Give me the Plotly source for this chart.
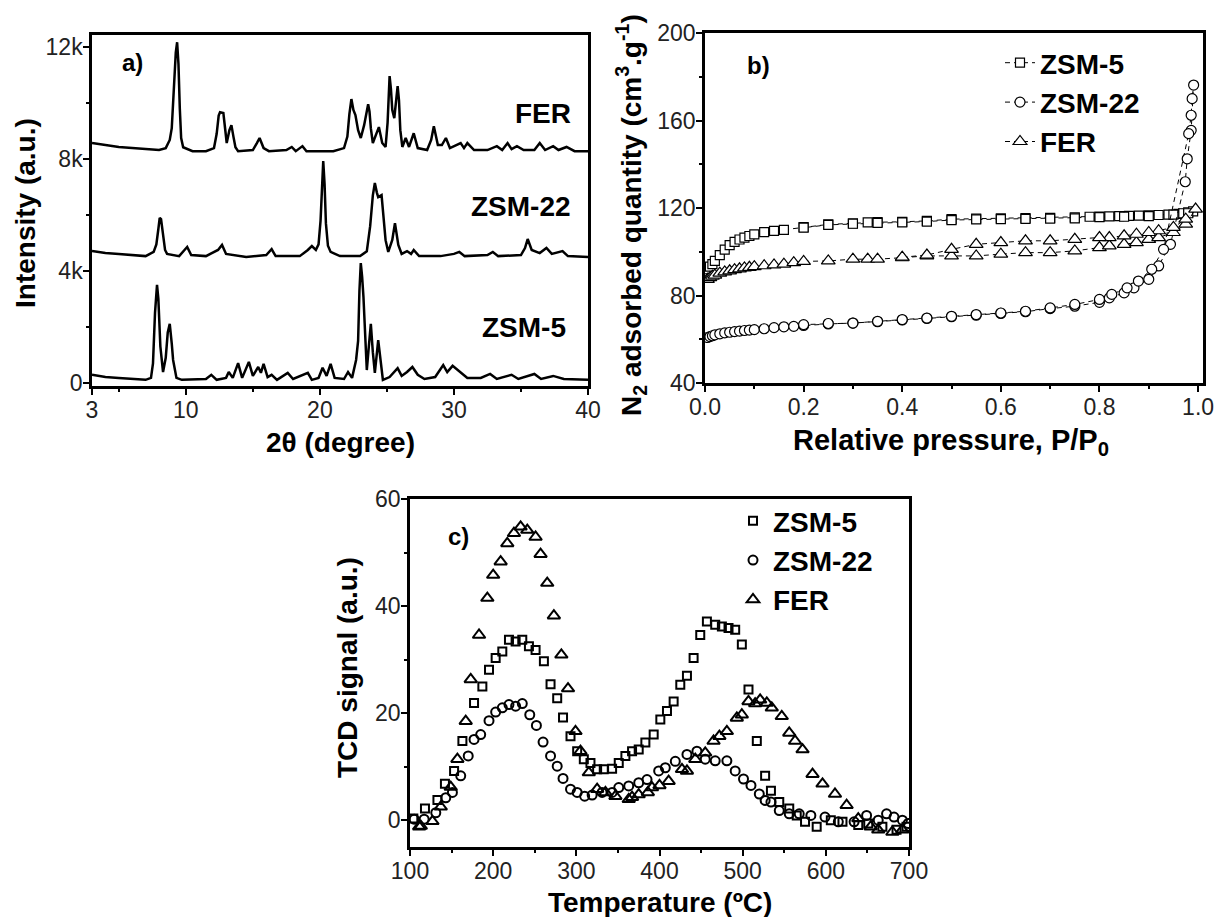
import plotly.graph_objects as go

W, H = 1219, 917
FONT = "Liberation Sans, Arial, sans-serif"

# ---------------- Panel a: XRD ----------------
fer_2t = [3.0, 4.0, 5.0, 6.0, 7.0, 8.0, 8.5, 8.8, 8.95, 9.1, 9.25, 9.35, 9.45, 9.55, 9.65, 9.8, 10.5, 11.5, 12.1,
          12.3, 12.45, 12.55, 12.8, 12.95, 13.05, 13.25, 13.4, 13.55, 13.7, 13.9, 15.0, 15.3, 15.5, 15.8, 16.2,
          17.5, 17.9, 18.2, 18.7, 19.0, 21.0, 21.8, 22.05, 22.2, 22.35, 22.5, 22.65, 22.85, 23.05, 23.3, 23.5,
          23.6, 23.7, 23.8, 23.95, 24.2, 24.4, 24.65, 24.9, 25.05, 25.15, 25.2, 25.3, 25.4, 25.55, 25.7, 25.8,
          25.9, 26.0, 26.15, 26.4, 26.65, 27.0, 27.3, 28.0, 28.3, 28.5, 28.8, 29.1, 29.4, 29.7, 30.5, 30.75, 31.0,
          31.5, 32.5, 33.2, 33.6, 34.0, 34.3, 34.7, 35.2, 36.0, 36.4, 36.8, 37.4, 37.8, 38.4, 39.0, 40.0]
fer_int = [8570, 8500, 8425, 8390, 8350, 8320, 8390, 8680, 9100, 10400, 11800, 12170, 11400, 9800, 8750, 8420,
           8280, 8280, 8390, 8900, 9550, 9670, 9640, 9000, 8570, 9030, 9210, 8800, 8420, 8280, 8320, 8570, 8750,
           8390, 8280, 8320, 8430, 8280, 8460, 8280, 8280, 8390, 8800, 9600, 10140, 9750, 9570, 9030, 8750, 9210,
           9700, 9960, 9700, 9100, 8570, 8850, 9140, 8570, 8430, 9300, 10500, 10960, 10500, 9750, 9460, 10300,
           10600, 10100, 9030, 8430, 8750, 8430, 8920, 8390, 8320, 8680, 9170, 8500, 8500, 8750, 8390, 8570, 8390,
           8570, 8320, 8320, 8460, 8320, 8570, 8350, 8460, 8320, 8320, 8570, 8320, 8460, 8320, 8430, 8280, 8280]

zsm22_2t = [3.0, 4.0, 5.0, 6.0, 7.0, 7.6, 7.8, 7.95, 8.05, 8.15, 8.3, 8.45, 8.6, 9.5, 9.9, 10.1, 10.4, 11.5, 12.4,
            12.7, 13.0, 14.5, 16.0, 16.4, 16.7, 18.5, 19.1, 19.4, 19.7, 19.9, 20.05, 20.15, 20.25, 20.35, 20.45,
            20.6, 20.8, 21.5, 23.0, 23.5, 23.75, 23.95, 24.1, 24.25, 24.35, 24.6, 24.75, 24.9, 25.1, 25.4, 25.6,
            25.85, 26.1, 26.5, 26.8, 27.0, 27.4, 29.0, 30.0, 30.4, 30.8, 32.5, 32.9, 33.3, 35.0, 35.3, 35.5, 35.8,
            36.4, 36.9, 37.3, 38.1, 38.5, 40.0]
zsm22_int = [4710, 4640, 4610, 4570, 4530, 4680, 4950, 5500, 5900, 5850, 5250, 4750, 4610, 4530, 4750, 4860, 4570,
             4530, 4750, 4930, 4610, 4500, 4570, 4780, 4530, 4530, 4750, 4890, 4750, 4950, 5800, 7200, 7930, 7100,
             5700, 4900, 4680, 4530, 4530, 4700, 5600, 6700, 7140, 6800, 6640, 6710, 6000, 5100, 4680, 5110, 5710,
             4930, 4610, 4710, 4610, 4750, 4530, 4530, 4610, 4680, 4530, 4570, 4680, 4530, 4570, 4820, 5140, 4750,
             4640, 4820, 4610, 4710, 4530, 4500]

zsm5_2t = [3.0, 4.0, 5.0, 6.0, 7.0, 7.4, 7.55, 7.7, 7.85, 7.95, 8.1, 8.3, 8.5, 8.65, 8.8, 8.95, 9.05, 9.3, 9.7,
           11.5, 11.9, 12.3, 13.0, 13.2, 13.5, 13.9, 14.2, 14.7, 15.0, 15.4, 15.6, 15.8, 16.1, 16.4, 16.8, 17.6,
           18.0, 19.1, 19.4, 19.9, 20.2, 20.5, 20.8, 21.1, 21.8, 22.1, 22.4, 22.7, 22.85, 22.95, 23.05, 23.15,
           23.25, 23.4, 23.5, 23.65, 23.8, 23.95, 24.1, 24.35, 24.5, 24.7, 25.2, 25.8, 26.1, 26.5, 26.9, 27.3,
           27.8, 28.6, 29.2, 29.5, 29.9, 30.5, 31.0, 32.0, 32.7, 33.2, 34.3, 34.8, 36.0, 36.5, 37.4, 38.2, 40.0]
zsm5_int = [290, 210, 180, 140, 110, 180, 700, 2500, 3500, 3000, 1300, 390, 900, 1800, 2110, 1400, 820, 180, 110,
            140, 290, 110, 180, 390, 180, 710, 180, 750, 250, 570, 360, 680, 210, 290, 110, 360, 140, 360, 110,
            180, 540, 250, 680, 180, 140, 390, 180, 820, 1500, 3300, 4280, 3800, 3070, 1500, 460, 1300, 2110, 1100,
            360, 1530, 900, 110, 210, 530, 250, 390, 570, 290, 140, 210, 640, 390, 610, 360, 180, 180, 320, 140,
            290, 140, 320, 140, 250, 140, 110]

xrd_tickvals = [3, 10, 20, 30, 40]
xrd_minor = [5, 15, 25, 35]
int_tickvals = [0, 4000, 8000, 12000]
int_ticktext = ["0", "4k", "8k", "12k"]

# ---------------- Panel b: N2 isotherms ----------------
b_zsm5_ads_p = [0.005, 0.01, 0.015, 0.02, 0.03, 0.04, 0.05, 0.06, 0.07, 0.08, 0.09, 0.10, 0.12, 0.14, 0.16, 0.20,
                0.25, 0.30, 0.33, 0.35, 0.40, 0.45, 0.50, 0.55, 0.60, 0.65, 0.70, 0.75, 0.78, 0.80, 0.82, 0.84,
                0.86, 0.88, 0.90, 0.92, 0.94, 0.96, 0.97, 0.98, 0.99]
b_zsm5_ads_q = [92.0, 93.2, 94.3, 95.8, 98.5, 101.0, 103.0, 104.5, 105.6, 106.5, 107.2, 107.9, 109.0, 109.5,
                110.0, 111.3, 112.5, 113.0, 113.4, 113.5, 113.7, 114.1, 114.9, 115.1, 115.3, 115.4, 115.5, 115.7,
                116.0, 116.1, 116.2, 116.3, 116.4, 116.5, 116.6, 116.8, 117.0, 117.3, 117.6, 118.0, 118.5]
b_zsm5_des_p = [0.98, 0.95, 0.90, 0.85, 0.80, 0.75, 0.70, 0.65, 0.60, 0.55, 0.50, 0.45, 0.40, 0.35, 0.30, 0.25,
                0.20]
b_zsm5_des_q = [117.6, 117.0, 116.3, 116.0, 115.8, 115.3, 115.1, 115.0, 114.9, 114.8, 114.5, 113.8, 113.4, 113.2,
                112.8, 112.3, 111.0]

b_zsm22_ads_p = [0.005, 0.01, 0.015, 0.02, 0.03, 0.04, 0.05, 0.06, 0.07, 0.08, 0.09, 0.10, 0.12, 0.14, 0.16, 0.18,
                 0.20, 0.25, 0.30, 0.35, 0.40, 0.45, 0.50, 0.55, 0.60, 0.65, 0.70, 0.75, 0.80, 0.82, 0.85, 0.87,
                 0.90, 0.92, 0.944, 0.974, 0.978, 0.986, 0.991]
b_zsm22_ads_q = [60.8, 61.2, 61.6, 62.0, 62.5, 62.9, 63.2, 63.5, 63.7, 64.0, 64.2, 64.4, 64.8, 65.3, 65.7, 65.9,
                 66.3, 67.0, 67.4, 68.0, 68.8, 69.5, 70.3, 71.0, 71.8, 72.6, 74.0, 75.1, 76.9, 78.9, 81.2, 83.5,
                 87.4, 93.5, 103.4, 132.0, 142.5, 155.5, 176.2]
b_zsm22_des_p = [0.988, 0.986, 0.981, 0.93, 0.906, 0.879, 0.856, 0.825, 0.80, 0.75, 0.70, 0.65, 0.60, 0.55, 0.50,
                 0.45, 0.40, 0.35, 0.30, 0.25, 0.20]
b_zsm22_des_q = [170.0, 162.4, 154.0, 101.1, 92.0, 86.6, 83.5, 80.5, 78.2, 75.9, 74.3, 72.8, 72.0, 71.3, 70.5,
                 69.7, 69.0, 68.2, 67.4, 67.2, 66.7]

b_fer_ads_p = [0.005, 0.01, 0.015, 0.02, 0.03, 0.04, 0.05, 0.06, 0.07, 0.08, 0.09, 0.10, 0.12, 0.14, 0.16, 0.18,
               0.20, 0.25, 0.30, 0.33, 0.35, 0.40, 0.45, 0.50, 0.55, 0.60, 0.65, 0.70, 0.75, 0.80, 0.82, 0.85,
               0.875, 0.90, 0.92, 0.95, 0.975, 0.995]
b_fer_ads_q = [87.4, 88.2, 88.8, 89.3, 90.2, 90.8, 91.3, 91.8, 92.2, 92.6, 92.9, 93.2, 93.6, 94.0, 94.3, 95.0,
               95.6, 95.8, 96.6, 96.6, 96.6, 97.3, 98.1, 98.1, 98.1, 98.9, 99.6, 99.6, 100.4, 101.9, 102.7, 103.4,
               104.2, 105.7, 106.5, 108.8, 112.6, 119.5]
b_fer_des_p = [0.975, 0.95, 0.92, 0.90, 0.875, 0.85, 0.82, 0.80, 0.75, 0.70, 0.65, 0.60, 0.55, 0.50, 0.45, 0.40]
b_fer_des_q = [114.9, 111.1, 109.6, 108.8, 108.0, 107.3, 106.5, 106.5, 105.7, 105.0, 105.0, 104.2, 103.4, 101.1,
               98.5, 97.5]

# ---------------- Panel c: NH3-TPD ----------------
c_zsm5_t = [104, 118, 133, 142, 153, 163, 177, 187, 195, 203, 211, 219, 227, 235, 243, 251, 261, 269, 277, 284,
            293, 301, 309, 317, 325, 333, 343, 351, 359, 367, 375, 383, 393, 401, 409, 417, 425, 433, 441, 449,
            457, 467, 475, 483, 491, 499, 507, 517, 527, 534, 544, 556, 565, 575, 589, 606, 620, 639, 651, 668,
            685, 697]
c_zsm5_s = [0.3, 2.2, 3.8, 6.8, 9.2, 14.8, 21.9, 25.0, 28.1, 30.3, 31.5, 33.7, 33.4, 33.7, 32.5, 31.8, 29.7, 25.4,
            22.8, 19.2, 15.7, 12.9, 11.4, 10.7, 9.5, 9.5, 9.6, 10.7, 12.0, 12.9, 13.2, 14.5, 16.0, 18.8, 20.4,
            22.2, 25.3, 27.0, 30.3, 34.6, 37.1, 36.5, 36.2, 35.9, 35.6, 32.8, 24.4, 14.8, 8.3, 5.5, 3.4, 2.2, 0.9,
            -0.3, -1.2, 0.0, -0.3, -0.9, -0.6, -1.2, -1.8, -1.2]

c_zsm22_t = [105, 117, 131, 143, 151, 161, 170, 177, 185, 195, 203, 211, 219, 227, 235, 244, 252, 260, 269, 277,
             284, 293, 301, 310, 319, 331, 343, 351, 363, 375, 385, 399, 407, 419, 433, 445, 455, 467, 481, 491,
             501, 510, 520, 527, 534, 544, 556, 568, 582, 599, 615, 634, 649, 663, 673, 682, 692, 699]
c_zsm22_s = [0.2, 0.2, 1.4, 4.2, 5.2, 8.3, 12.0, 15.1, 16.0, 18.6, 20.2, 21.0, 21.6, 21.3, 21.8, 19.7, 17.7, 14.6,
             12.0, 10.1, 7.8, 5.8, 5.2, 4.5, 4.7, 5.2, 5.2, 6.1, 6.4, 7.0, 7.6, 9.2, 9.8, 11.0, 12.3, 12.9, 11.4,
             11.1, 11.1, 9.2, 7.7, 6.5, 4.9, 3.7, 3.4, 1.8, 1.2, 1.2, 0.9, 0.6, -0.3, -0.3, 0.9, 0.0, 1.2, 0.6,
             0.0, -0.6]

c_fer_t = [111, 113, 127, 137, 149, 157, 167, 173, 183, 193, 200, 209, 217, 225, 233, 241, 251, 257, 265, 273,
           282, 290, 299, 305, 315, 325, 335, 347, 363, 367, 375, 386, 391, 400, 411, 427, 433, 443, 455, 465, 472,
           481, 493, 499, 507, 515, 521, 529, 535, 547, 556, 563, 572, 584, 596, 611, 625, 639, 654, 663, 680, 692]
c_fer_s = [-1.2, -1.1, -0.2, 2.5, 6.2, 11.4, 18.5, 26.3, 34.6, 41.5, 45.8, 48.3, 51.7, 53.6, 54.8, 54.2, 52.9,
           49.7, 44.3, 38.2, 30.9, 24.6, 16.6, 12.9, 8.9, 5.8, 5.2, 4.5, 3.9, 4.3, 4.8, 5.2, 6.1, 6.5, 7.3, 9.5,
           9.2, 11.4, 12.6, 14.8, 15.7, 16.6, 19.1, 19.7, 22.2, 21.8, 22.5, 21.9, 21.0, 19.4, 16.3, 14.8, 13.2,
           8.6, 6.8, 4.9, 2.8, 0.3, -1.2, -1.8, -2.2, -1.8]

sample_names = ["ZSM-5", "ZSM-22", "FER"]


def px(x):
    return x / W


def py(y):
    return 1 - y / H


fig = go.Figure()

# Panel a traces
for xs, ys in [(fer_2t, fer_int), (zsm22_2t, zsm22_int), (zsm5_2t, zsm5_int)]:
    fig.add_trace(go.Scatter(x=xs, y=ys, mode="lines", line=dict(color="black", width=2.5),
                             showlegend=False, xaxis="x", yaxis="y"))

# Panel b traces
b_sets = [(b_zsm5_ads_p + b_zsm5_des_p, b_zsm5_ads_q + b_zsm5_des_q, "square", 9),
          (b_zsm22_ads_p + b_zsm22_des_p, b_zsm22_ads_q + b_zsm22_des_q, "circle", 10),
          (b_fer_ads_p + b_fer_des_p, b_fer_ads_q + b_fer_des_q, "triangle-up", 12)]
for (xs, ys, sym, sz), name in zip(b_sets, sample_names):
    fig.add_trace(go.Scatter(x=xs, y=ys, mode="lines+markers", name=name,
                             line=dict(color="black", width=1, dash="5px,4px"),
                             marker=dict(symbol=sym, size=sz, color="white",
                                         line=dict(color="black", width=1.2)),
                             xaxis="x2", yaxis="y2", legend="legend"))

# Panel c traces
c_sets = [(c_zsm5_t, c_zsm5_s, "square-open", 8), (c_zsm22_t, c_zsm22_s, "circle-open", 9),
          (c_fer_t, c_fer_s, "triangle-up-open", 11)]
for (xs, ys, sym, sz), name in zip(c_sets, sample_names):
    fig.add_trace(go.Scatter(x=xs, y=ys, mode="markers", name=name,
                             marker=dict(symbol=sym, size=sz, color="black", line=dict(color="black", width=2)),
                             xaxis="x3", yaxis="y3", legend="legend2"))

tickfont = dict(family=FONT, size=23, color="#222")
common = dict(showline=True, linewidth=2.5, linecolor="black", mirror=True, ticks="outside", ticklen=6,
              tickwidth=2, tickcolor="black", tickfont=tickfont, showgrid=False, zeroline=False,
              automargin=False, ticklabelstandoff=-4)
minor_style = dict(ticks="outside", ticklen=3, tickwidth=2, tickcolor="black")

fig.update_layout(
    width=W, height=H, margin=dict(l=0, r=0, t=0, b=0),
    paper_bgcolor="white", plot_bgcolor="white",
    xaxis=dict(domain=[px(92), px(588)], range=[3, 40], tickvals=xrd_tickvals, anchor="y",
               minor=dict(tickvals=xrd_minor, **minor_style), **common),
    yaxis=dict(domain=[py(386), py(35)], range=[-110, 12430], tickvals=int_tickvals, ticktext=int_ticktext,
               anchor="x", minor=dict(dtick=2000, **minor_style), **common),
    xaxis2=dict(domain=[px(705), px(1203)], range=[0, 1.01], dtick=0.2, tickformat=".1f", anchor="y2",
                minor=dict(dtick=0.1, **minor_style), **common),
    yaxis2=dict(domain=[py(383), py(33)], range=[40, 200], dtick=40, anchor="x2",
                minor=dict(dtick=20, **minor_style), **common),
    xaxis3=dict(domain=[px(410), px(909)], range=[100, 700], dtick=100, anchor="y3",
                minor=dict(dtick=50, **minor_style), **common),
    yaxis3=dict(domain=[py(847), py(499)], range=[-5, 60], dtick=20, anchor="x3",
                minor=dict(dtick=10, **minor_style), **common),
    legend=dict(x=px(1000), y=py(38), xanchor="left", yanchor="top", bgcolor="rgba(0,0,0,0)",
                font=dict(family=FONT, size=28, color="black", weight="bold"), itemwidth=30),
    legend2=dict(x=px(733), y=py(496), xanchor="left", yanchor="top", bgcolor="rgba(0,0,0,0)",
                 font=dict(family=FONT, size=28, color="black", weight="bold"), itemwidth=30),
)

bold = dict(family=FONT, color="black", weight="bold")
annos = [
    ("a)", 132, 62, 24, 0, "center"),
    ("FER", 573, 114, 28, 0, "right"),
    ("ZSM-22", 573, 207, 28, 0, "right"),
    ("ZSM-5", 568, 327, 28, 0, "right"),
    ("b)", 758, 66, 24, 0, "center"),
    ("c)", 458, 536, 24, 0, "center"),
    ("Intensity (a.u.)", 25, 213, 28, -90, "center"),
    ("2θ (degree)", 340, 442, 28, 0, "center"),
    ("N<sub>2</sub> adsorbed quantity (cm<sup>3</sup>.g<sup>-1</sup>)", 631, 215, 28, -90, "center"),
    ("Relative pressure, P/P<sub>0</sub>", 951, 442, 29, 0, "center"),
    ("TCD signal (a.u.)", 347, 668, 28, -90, "center"),
    ("Temperature (ºC)", 660, 902, 28, 0, "center"),
]
for text, x, y, size, ang, xa in annos:
    fig.add_annotation(text=text, x=px(x), y=py(y), xref="paper", yref="paper", showarrow=False,
                       textangle=ang, xanchor=xa, yanchor="middle", font=dict(size=size, **bold))

fig.write_html("out.html", config={"displayModeBar": False},
               post_script="document.body.style.margin='0';document.body.style.overflow='hidden';")
